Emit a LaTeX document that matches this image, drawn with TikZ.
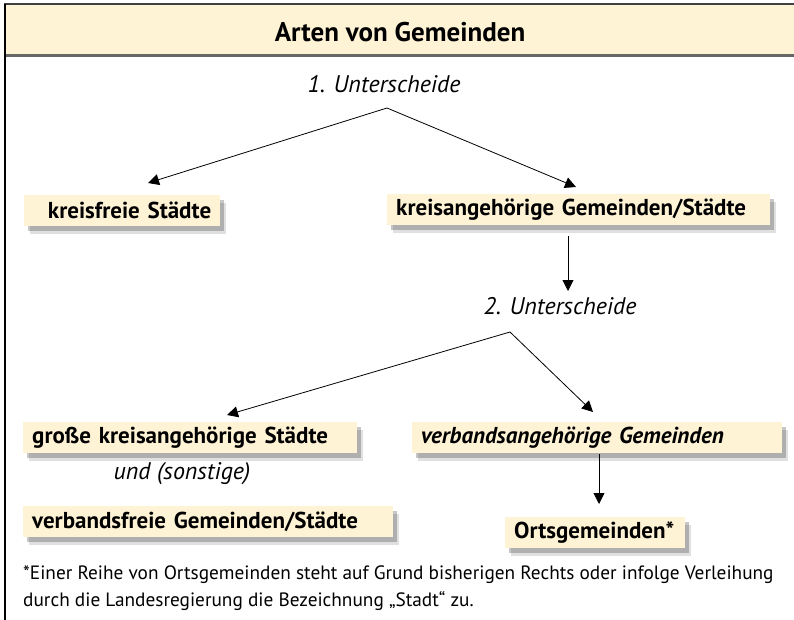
\documentclass[tikz,border=0pt]{standalone}
\usepackage{fontspec}
\setmainfont{PT Sans}
\usetikzlibrary{shadows,arrows.meta}
\definecolor{cream}{HTML}{FFF3D6}
\begin{document}
\begin{tikzpicture}[x=1pt,y=-1pt,
  boxnode/.style={fill=cream, inner xsep=9pt, inner ysep=0pt, minimum height=31pt,
    anchor=north west, align=left,
    font=\bfseries\fontsize{23}{26}\selectfont,
    drop shadow={shadow xshift=6pt,shadow yshift=-8pt,fill=black,opacity=0.12},
    drop shadow={shadow xshift=4pt,shadow yshift=-5pt,fill=black,opacity=0.22}},
  labnode/.style={font=\itshape\fontsize{24}{28}\selectfont, inner sep=0pt},
  arr/.style={-{Triangle[length=11pt,width=11pt]}, line width=0.8pt}]
\useasboundingbox (0,0) rectangle (794,620);
% header
\fill[cream] (5,5) rectangle (794,56);
\draw[line width=2pt, black!75] (4,4.5) -- (794,4.5);
\draw[line width=3pt, black!60] (5,56) -- (794,56);
\draw[line width=1.5pt] (5,4) -- (5,620);
\node[font=\bfseries\fontsize{27}{30}\selectfont] (title) at (400,32) {Arten von Gemeinden};
% level 1
\node[labnode] (u1) at (384,84) {1. Unterscheide};
\coordinate (a1) at (387,108);
\node[boxnode, text width=178pt, align=right] (kf) at (24,195) {kreisfreie Städte};
\node[boxnode, text width=365pt] (kga) at (387,194) {kreisangehörige Gemeinden/Städte};
\coordinate (t1l) at (148,183);
\coordinate (t1r) at (576,187);
\draw[arr] (a1) -- (t1l);
\draw[arr] (a1) -- (t1r);
% level 2
\coordinate (d1s) at (568,236);
\coordinate (d1e) at (568,291);
\draw[arr] (d1s) -- (d1e);
\node[labnode] (u2) at (560,306) {2. Unterscheide};
\coordinate (a2) at (510,332);
\coordinate (t2l) at (227,415);
\coordinate (t2r) at (593,412);
\draw[arr] (a2) -- (t2l);
\draw[arr] (a2) -- (t2r);
\node[boxnode, text width=316pt] (gks) at (23,422) {große kreisangehörige Städte};
\node[labnode] (und) at (182,474) {und (sonstige)};
\node[boxnode, text width=352pt] (vfg) at (23,506) {verbandsfreie Gemeinden/Städte};
\node[boxnode, text width=352pt, font=\bfseries\itshape\fontsize{23}{26}\selectfont] (vag) at (412,422) {verbandsangehörige Gemeinden};
\coordinate (d2s) at (599,454);
\coordinate (d2e) at (599,504);
\draw[arr] (d2s) -- (d2e);
\node[boxnode, text width=162pt] (og) at (505,517) {Ortsgemeinden*};
% footnote
\node[anchor=north west, inner sep=0pt, align=left,
  font=\fontsize{19.3}{27}\selectfont] (fn) at (23,565)
  {*Einer Reihe von Ortsgemeinden steht auf Grund bisherigen Rechts oder infolge Verleihung\\ durch die Landesregierung die Bezeichnung „Stadt“ zu.};
\end{tikzpicture}
\end{document}
